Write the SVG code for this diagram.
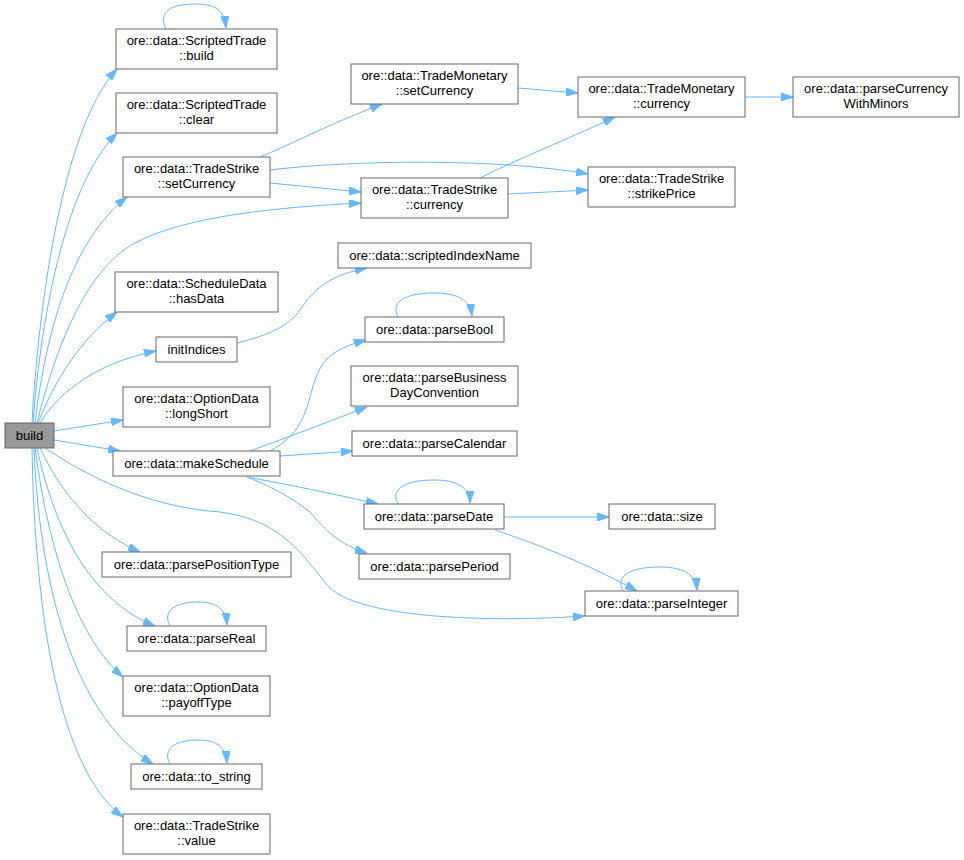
<svg xmlns="http://www.w3.org/2000/svg" width="964" height="860" viewBox="0 0 964 860">
<style>
.n rect{fill:#ffffff;stroke:#666666;stroke-width:1}
.root rect{fill:#999999;stroke:#666666;stroke-width:1}
text{font-family:"Liberation Sans",Arial,sans-serif;font-size:13px;fill:#000000;text-anchor:middle}
.e path{fill:none;stroke:#63b8ff;stroke-width:1;marker-end:url(#ah)}
</style>
<defs>
<marker id="ah" viewBox="0 0 12 8" refX="12" refY="4" markerWidth="12" markerHeight="8" markerUnits="userSpaceOnUse" orient="auto">
<path d="M0,0 L12,4 L0,8 z" fill="#63b8ff" stroke="#63b8ff" stroke-width="1"/>
</marker>
</defs>
<rect width="964" height="860" fill="#ffffff"/>
<g id="edges" class="e">
<path d="M32,423 C38,310 62,128 117,69"/>
<path d="M33,423 C40,330 62,188 117,133"/>
<path d="M35,423 C46,330 72,240 127,197"/>
<path d="M37,423 C55,350 85,270 135,243 C185,216 280,207 361,203"/>
<path d="M38,423 C55,380 80,340 117,312"/>
<path d="M40,423 C60,390 100,362 156,351"/>
<path d="M54,431 L123,420"/>
<path d="M54,440 L120,451"/>
<path d="M45,448 C100,485 160,508 220,512 C285,520 305,560 330,588 C365,620 500,622 585,616"/>
<path d="M40,448 C60,490 90,530 140,552"/>
<path d="M37,448 C55,530 90,600 155,626"/>
<path d="M35,448 C50,560 80,640 123,677"/>
<path d="M34,448 C40,600 80,720 153,764"/>
<path d="M32,448 C35,620 60,770 123,817"/>
<path d="M166,29 C158,12 170,4 196,4 C214,4 224,9 226,28"/>
<path d="M398,317 C390,302 405,293 434,293 C458,293 470,300 472,316"/>
<path d="M398,504 C390,489 405,480 434,480 C458,480 470,488 470,503"/>
<path d="M623,591 C615,576 630,567 660,567 C684,567 696,575 697,590"/>
<path d="M170,626 C162,611 175,602 198,602 C218,602 226,610 227,625"/>
<path d="M170,764 C162,749 175,740 198,740 C218,740 226,748 227,763"/>
<path d="M260,157 C290,145 320,128 382,104"/>
<path d="M270,170 C350,160 500,158 588,174"/>
<path d="M270,183 L361,192"/>
<path d="M518,88 L578,93"/>
<path d="M745,97 L793,97"/>
<path d="M480,178 C520,158 570,138 615,117"/>
<path d="M508,194 L588,190"/>
<path d="M237,343 C270,335 290,325 300,310 C315,288 330,275 367,268"/>
<path d="M270,451 C300,435 305,415 312,390 C320,360 330,350 366,340"/>
<path d="M250,451 C280,440 320,425 367,407"/>
<path d="M280,456 L353,451"/>
<path d="M247,477 C290,485 330,493 378,504"/>
<path d="M247,477 C275,488 295,500 310,512 C325,530 340,545 367,553"/>
<path d="M504,517 L609,517"/>
<path d="M495,530 C540,545 590,565 637,591"/>
</g>
<g id="build" class="root"><rect x="5" y="423" width="49" height="25"/><text x="29.5" y="440">build</text></g>
<g id="scriptedtrade_build" class="n"><rect x="116" y="29" width="161" height="40"/><text x="196.5" y="45">ore::data::ScriptedTrade</text><text x="196.5" y="60">::build</text></g>
<g id="scriptedtrade_clear" class="n"><rect x="116" y="93" width="161" height="40"/><text x="196.5" y="109">ore::data::ScriptedTrade</text><text x="196.5" y="124">::clear</text></g>
<g id="tradestrike_setcurrency" class="n"><rect x="123" y="157" width="147" height="40"/><text x="196.5" y="173">ore::data::TradeStrike</text><text x="196.5" y="188">::setCurrency</text></g>
<g id="trademonetary_setcurrency" class="n"><rect x="351" y="64" width="167" height="40"/><text x="434.5" y="80">ore::data::TradeMonetary</text><text x="434.5" y="95">::setCurrency</text></g>
<g id="tradestrike_currency" class="n"><rect x="361" y="178" width="147" height="40"/><text x="434.5" y="194">ore::data::TradeStrike</text><text x="434.5" y="209">::currency</text></g>
<g id="trademonetary_currency" class="n"><rect x="578" y="77" width="167" height="40"/><text x="661.5" y="93">ore::data::TradeMonetary</text><text x="661.5" y="108">::currency</text></g>
<g id="parsecurrencywithminors" class="n"><rect x="793" y="77" width="166" height="40"/><text x="876" y="93">ore::data::parseCurrency</text><text x="876" y="108">WithMinors</text></g>
<g id="tradestrike_strikeprice" class="n"><rect x="588" y="167" width="147" height="40"/><text x="661.5" y="183">ore::data::TradeStrike</text><text x="661.5" y="198">::strikePrice</text></g>
<g id="scheduledata_hasdata" class="n"><rect x="115" y="272" width="163" height="40"/><text x="196.5" y="288">ore::data::ScheduleData</text><text x="196.5" y="303">::hasData</text></g>
<g id="initindices" class="n"><rect x="156" y="337" width="81" height="25"/><text x="196.5" y="354">initIndices</text></g>
<g id="optiondata_longshort" class="n"><rect x="123" y="387" width="147" height="40"/><text x="196.5" y="403">ore::data::OptionData</text><text x="196.5" y="418">::longShort</text></g>
<g id="makeschedule" class="n"><rect x="113" y="451" width="167" height="25"/><text x="196.5" y="468">ore::data::makeSchedule</text></g>
<g id="scriptedindexname" class="n"><rect x="338" y="243" width="193" height="25"/><text x="434.5" y="260">ore::data::scriptedIndexName</text></g>
<g id="parsebool" class="n"><rect x="365" y="317" width="139" height="25"/><text x="434.5" y="334">ore::data::parseBool</text></g>
<g id="parsebusinessdayconvention" class="n"><rect x="351" y="366" width="167" height="40"/><text x="434.5" y="382">ore::data::parseBusiness</text><text x="434.5" y="397">DayConvention</text></g>
<g id="parsecalendar" class="n"><rect x="352" y="431" width="165" height="25"/><text x="434.5" y="448">ore::data::parseCalendar</text></g>
<g id="parsedate" class="n"><rect x="364" y="504" width="140" height="25"/><text x="434" y="521">ore::data::parseDate</text></g>
<g id="size" class="n"><rect x="609" y="504" width="106" height="25"/><text x="662" y="521">ore::data::size</text></g>
<g id="parseperiod" class="n"><rect x="359" y="554" width="151" height="25"/><text x="434.5" y="571">ore::data::parsePeriod</text></g>
<g id="parseinteger" class="n"><rect x="585" y="591" width="153" height="25"/><text x="661.5" y="608">ore::data::parseInteger</text></g>
<g id="parsepositiontype" class="n"><rect x="102" y="552" width="189" height="25"/><text x="196.5" y="569">ore::data::parsePositionType</text></g>
<g id="parsereal" class="n"><rect x="127" y="626" width="139" height="25"/><text x="196.5" y="643">ore::data::parseReal</text></g>
<g id="optiondata_payofftype" class="n"><rect x="123" y="676" width="147" height="40"/><text x="196.5" y="692">ore::data::OptionData</text><text x="196.5" y="707">::payoffType</text></g>
<g id="to_string" class="n"><rect x="131" y="764" width="131" height="25"/><text x="196.5" y="781">ore::data::to_string</text></g>
<g id="tradestrike_value" class="n"><rect x="123" y="814" width="147" height="40"/><text x="196.5" y="830">ore::data::TradeStrike</text><text x="196.5" y="845">::value</text></g>
</svg>
